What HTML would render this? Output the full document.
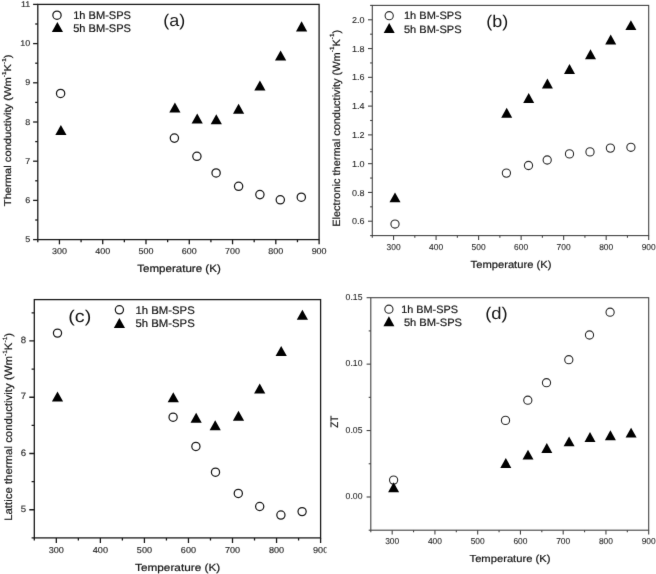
<!DOCTYPE html>
<html lang="en"><head><meta charset="utf-8"><title>Thermal conductivity and ZT versus temperature</title>
<style>html,body{margin:0;padding:0;background:#fff;overflow:hidden}svg{display:block}text{font-family:"Liberation Sans", sans-serif;text-rendering:geometricPrecision}</style></head><body>
<svg width="656" height="574" viewBox="0 0 656 574">
<defs><filter id="soft" x="-2" y="-2" width="660" height="578" filterUnits="userSpaceOnUse" color-interpolation-filters="sRGB"><feConvolveMatrix order="3" kernelMatrix="0.00524 0.06192 0.00524 0.06192 0.73137 0.06192 0.00524 0.06192 0.00524" divisor="1" edgeMode="duplicate" preserveAlpha="false"/></filter></defs>
<rect x="0" y="0" width="656" height="574" fill="#fff"/>
<g filter="url(#soft)">
<rect x="-2" y="-2" width="660" height="578" fill="#fff"/>
<g id="panel-a">
<rect x="37.8" y="4.4" width="281.3" height="235.2" fill="none" stroke="#1a1a1a" stroke-width="1.3"/>
<line x1="59.44" y1="239.6" x2="59.44" y2="244.3" stroke="#1a1a1a" stroke-width="1.3"/>
<line x1="102.72" y1="239.6" x2="102.72" y2="244.3" stroke="#1a1a1a" stroke-width="1.3"/>
<line x1="145.99" y1="239.6" x2="145.99" y2="244.3" stroke="#1a1a1a" stroke-width="1.3"/>
<line x1="189.27" y1="239.6" x2="189.27" y2="244.3" stroke="#1a1a1a" stroke-width="1.3"/>
<line x1="232.55" y1="239.6" x2="232.55" y2="244.3" stroke="#1a1a1a" stroke-width="1.3"/>
<line x1="275.82" y1="239.6" x2="275.82" y2="244.3" stroke="#1a1a1a" stroke-width="1.3"/>
<line x1="319.1" y1="239.6" x2="319.1" y2="244.3" stroke="#1a1a1a" stroke-width="1.3"/>
<line x1="37.8" y1="239.6" x2="37.8" y2="242.2" stroke="#1a1a1a" stroke-width="1.3"/>
<line x1="81.08" y1="239.6" x2="81.08" y2="242.2" stroke="#1a1a1a" stroke-width="1.3"/>
<line x1="124.35" y1="239.6" x2="124.35" y2="242.2" stroke="#1a1a1a" stroke-width="1.3"/>
<line x1="167.63" y1="239.6" x2="167.63" y2="242.2" stroke="#1a1a1a" stroke-width="1.3"/>
<line x1="210.91" y1="239.6" x2="210.91" y2="242.2" stroke="#1a1a1a" stroke-width="1.3"/>
<line x1="254.18" y1="239.6" x2="254.18" y2="242.2" stroke="#1a1a1a" stroke-width="1.3"/>
<line x1="297.46" y1="239.6" x2="297.46" y2="242.2" stroke="#1a1a1a" stroke-width="1.3"/>
<text transform="translate(59.44,253.8) scale(1.07,1)" font-size="8.4" text-anchor="middle" fill="#2a2a2a" stroke="#2a2a2a" stroke-width="0.15">300</text>
<text transform="translate(102.72,253.8) scale(1.07,1)" font-size="8.4" text-anchor="middle" fill="#2a2a2a" stroke="#2a2a2a" stroke-width="0.15">400</text>
<text transform="translate(145.99,253.8) scale(1.07,1)" font-size="8.4" text-anchor="middle" fill="#2a2a2a" stroke="#2a2a2a" stroke-width="0.15">500</text>
<text transform="translate(189.27,253.8) scale(1.07,1)" font-size="8.4" text-anchor="middle" fill="#2a2a2a" stroke="#2a2a2a" stroke-width="0.15">600</text>
<text transform="translate(232.55,253.8) scale(1.07,1)" font-size="8.4" text-anchor="middle" fill="#2a2a2a" stroke="#2a2a2a" stroke-width="0.15">700</text>
<text transform="translate(275.82,253.8) scale(1.07,1)" font-size="8.4" text-anchor="middle" fill="#2a2a2a" stroke="#2a2a2a" stroke-width="0.15">800</text>
<text transform="translate(319.1,253.8) scale(1.07,1)" font-size="8.4" text-anchor="middle" fill="#2a2a2a" stroke="#2a2a2a" stroke-width="0.15">900</text>
<line x1="37.8" y1="239.6" x2="33.1" y2="239.6" stroke="#1a1a1a" stroke-width="1.3"/>
<line x1="37.8" y1="200.4" x2="33.1" y2="200.4" stroke="#1a1a1a" stroke-width="1.3"/>
<line x1="37.8" y1="161.2" x2="33.1" y2="161.2" stroke="#1a1a1a" stroke-width="1.3"/>
<line x1="37.8" y1="122" x2="33.1" y2="122" stroke="#1a1a1a" stroke-width="1.3"/>
<line x1="37.8" y1="82.8" x2="33.1" y2="82.8" stroke="#1a1a1a" stroke-width="1.3"/>
<line x1="37.8" y1="43.6" x2="33.1" y2="43.6" stroke="#1a1a1a" stroke-width="1.3"/>
<line x1="37.8" y1="4.4" x2="33.1" y2="4.4" stroke="#1a1a1a" stroke-width="1.3"/>
<line x1="37.8" y1="220" x2="35.2" y2="220" stroke="#1a1a1a" stroke-width="1.3"/>
<line x1="37.8" y1="180.8" x2="35.2" y2="180.8" stroke="#1a1a1a" stroke-width="1.3"/>
<line x1="37.8" y1="141.6" x2="35.2" y2="141.6" stroke="#1a1a1a" stroke-width="1.3"/>
<line x1="37.8" y1="102.4" x2="35.2" y2="102.4" stroke="#1a1a1a" stroke-width="1.3"/>
<line x1="37.8" y1="63.2" x2="35.2" y2="63.2" stroke="#1a1a1a" stroke-width="1.3"/>
<line x1="37.8" y1="24" x2="35.2" y2="24" stroke="#1a1a1a" stroke-width="1.3"/>
<text transform="translate(30.3,242.21) scale(1.07,1)" font-size="8.4" text-anchor="end" fill="#2a2a2a" stroke="#2a2a2a" stroke-width="0.15">5</text>
<text transform="translate(30.3,203.01) scale(1.07,1)" font-size="8.4" text-anchor="end" fill="#2a2a2a" stroke="#2a2a2a" stroke-width="0.15">6</text>
<text transform="translate(30.3,163.81) scale(1.07,1)" font-size="8.4" text-anchor="end" fill="#2a2a2a" stroke="#2a2a2a" stroke-width="0.15">7</text>
<text transform="translate(30.3,124.61) scale(1.07,1)" font-size="8.4" text-anchor="end" fill="#2a2a2a" stroke="#2a2a2a" stroke-width="0.15">8</text>
<text transform="translate(30.3,85.41) scale(1.07,1)" font-size="8.4" text-anchor="end" fill="#2a2a2a" stroke="#2a2a2a" stroke-width="0.15">9</text>
<text transform="translate(30.3,46.21) scale(1.07,1)" font-size="8.4" text-anchor="end" fill="#2a2a2a" stroke="#2a2a2a" stroke-width="0.15">10</text>
<text transform="translate(30.3,7.01) scale(1.07,1)" font-size="8.4" text-anchor="end" fill="#2a2a2a" stroke="#2a2a2a" stroke-width="0.15">11</text>
<text transform="translate(179,272.2) scale(1.1,1)" font-size="10.5" text-anchor="middle" fill="#161616" stroke="#161616" stroke-width="0.22">Temperature (K)</text>
<text transform="translate(11.15,130.3) rotate(-90) scale(1.13,1)" font-size="9.9" text-anchor="middle" fill="#161616" stroke="#161616" stroke-width="0.22">Thermal conductivity (Wm<tspan dy="-5.15" font-size="5.74">-1</tspan><tspan dy="5.15">K</tspan><tspan dy="-5.15" font-size="5.74">-1</tspan><tspan dy="5.15">)</tspan></text>
<text transform="translate(174.2,25.5) scale(1.07,1)" font-size="16.8" text-anchor="middle" fill="#161616">(a)</text>
<circle cx="57" cy="15.2" r="4.15" fill="#fff" stroke="#1a1a1a" stroke-width="1.25"/>
<polygon points="57.4,21.95 63,32.05 51.8,32.05" fill="#000"/>
<text transform="translate(73.2,19.2) scale(1.005,1)" font-size="11.0" text-anchor="start" fill="#161616" stroke="#161616" stroke-width="0.22">1h BM-SPS</text>
<text transform="translate(73.2,32.25) scale(1.005,1)" font-size="11.0" text-anchor="start" fill="#161616" stroke="#161616" stroke-width="0.22">5h BM-SPS</text>
<circle cx="60.6" cy="93.4" r="4.15" fill="#fff" stroke="#1a1a1a" stroke-width="1.25"/>
<circle cx="174.4" cy="138.1" r="4.15" fill="#fff" stroke="#1a1a1a" stroke-width="1.25"/>
<circle cx="196.9" cy="156.3" r="4.15" fill="#fff" stroke="#1a1a1a" stroke-width="1.25"/>
<circle cx="216.1" cy="172.9" r="4.15" fill="#fff" stroke="#1a1a1a" stroke-width="1.25"/>
<circle cx="238.6" cy="186.3" r="4.15" fill="#fff" stroke="#1a1a1a" stroke-width="1.25"/>
<circle cx="259.9" cy="194.6" r="4.15" fill="#fff" stroke="#1a1a1a" stroke-width="1.25"/>
<circle cx="280.3" cy="199.8" r="4.15" fill="#fff" stroke="#1a1a1a" stroke-width="1.25"/>
<circle cx="301.3" cy="197.2" r="4.15" fill="#fff" stroke="#1a1a1a" stroke-width="1.25"/>
<polygon points="60.9,125 66.5,135.1 55.3,135.1" fill="#000"/>
<polygon points="174.9,102.4 180.5,112.5 169.3,112.5" fill="#000"/>
<polygon points="197.2,113.4 202.8,123.5 191.6,123.5" fill="#000"/>
<polygon points="216.3,114.2 221.9,124.3 210.7,124.3" fill="#000"/>
<polygon points="238.6,103.7 244.2,113.8 233,113.8" fill="#000"/>
<polygon points="259.9,80.4 265.5,90.5 254.3,90.5" fill="#000"/>
<polygon points="280.6,50.4 286.2,60.5 275,60.5" fill="#000"/>
<polygon points="301.6,21.3 307.2,31.4 296,31.4" fill="#000"/>
</g>
<g id="panel-b">
<rect x="372.3" y="5.4" width="276.4" height="230.2" fill="none" stroke="#444" stroke-width="1.1"/>
<line x1="393.56" y1="235.6" x2="393.56" y2="239.9" stroke="#444" stroke-width="1.1"/>
<line x1="436.08" y1="235.6" x2="436.08" y2="239.9" stroke="#444" stroke-width="1.1"/>
<line x1="478.61" y1="235.6" x2="478.61" y2="239.9" stroke="#444" stroke-width="1.1"/>
<line x1="521.13" y1="235.6" x2="521.13" y2="239.9" stroke="#444" stroke-width="1.1"/>
<line x1="563.65" y1="235.6" x2="563.65" y2="239.9" stroke="#444" stroke-width="1.1"/>
<line x1="606.18" y1="235.6" x2="606.18" y2="239.9" stroke="#444" stroke-width="1.1"/>
<line x1="648.7" y1="235.6" x2="648.7" y2="239.9" stroke="#444" stroke-width="1.1"/>
<line x1="372.3" y1="235.6" x2="372.3" y2="237.8" stroke="#444" stroke-width="1.1"/>
<line x1="414.82" y1="235.6" x2="414.82" y2="237.8" stroke="#444" stroke-width="1.1"/>
<line x1="457.35" y1="235.6" x2="457.35" y2="237.8" stroke="#444" stroke-width="1.1"/>
<line x1="499.87" y1="235.6" x2="499.87" y2="237.8" stroke="#444" stroke-width="1.1"/>
<line x1="542.39" y1="235.6" x2="542.39" y2="237.8" stroke="#444" stroke-width="1.1"/>
<line x1="584.92" y1="235.6" x2="584.92" y2="237.8" stroke="#444" stroke-width="1.1"/>
<line x1="627.44" y1="235.6" x2="627.44" y2="237.8" stroke="#444" stroke-width="1.1"/>
<text transform="translate(393.56,250.4) scale(0.98,1)" font-size="8.6" text-anchor="middle" fill="#2a2a2a" stroke="#2a2a2a" stroke-width="0.1">300</text>
<text transform="translate(436.08,250.4) scale(0.98,1)" font-size="8.6" text-anchor="middle" fill="#2a2a2a" stroke="#2a2a2a" stroke-width="0.1">400</text>
<text transform="translate(478.61,250.4) scale(0.98,1)" font-size="8.6" text-anchor="middle" fill="#2a2a2a" stroke="#2a2a2a" stroke-width="0.1">500</text>
<text transform="translate(521.13,250.4) scale(0.98,1)" font-size="8.6" text-anchor="middle" fill="#2a2a2a" stroke="#2a2a2a" stroke-width="0.1">600</text>
<text transform="translate(563.65,250.4) scale(0.98,1)" font-size="8.6" text-anchor="middle" fill="#2a2a2a" stroke="#2a2a2a" stroke-width="0.1">700</text>
<text transform="translate(606.18,250.4) scale(0.98,1)" font-size="8.6" text-anchor="middle" fill="#2a2a2a" stroke="#2a2a2a" stroke-width="0.1">800</text>
<text transform="translate(648.7,250.4) scale(0.98,1)" font-size="8.6" text-anchor="middle" fill="#2a2a2a" stroke="#2a2a2a" stroke-width="0.1">900</text>
<line x1="372.3" y1="221.21" x2="368" y2="221.21" stroke="#444" stroke-width="1.1"/>
<line x1="372.3" y1="192.44" x2="368" y2="192.44" stroke="#444" stroke-width="1.1"/>
<line x1="372.3" y1="163.66" x2="368" y2="163.66" stroke="#444" stroke-width="1.1"/>
<line x1="372.3" y1="134.89" x2="368" y2="134.89" stroke="#444" stroke-width="1.1"/>
<line x1="372.3" y1="106.11" x2="368" y2="106.11" stroke="#444" stroke-width="1.1"/>
<line x1="372.3" y1="77.34" x2="368" y2="77.34" stroke="#444" stroke-width="1.1"/>
<line x1="372.3" y1="48.56" x2="368" y2="48.56" stroke="#444" stroke-width="1.1"/>
<line x1="372.3" y1="19.79" x2="368" y2="19.79" stroke="#444" stroke-width="1.1"/>
<line x1="372.3" y1="235.6" x2="370.1" y2="235.6" stroke="#444" stroke-width="1.1"/>
<line x1="372.3" y1="206.82" x2="370.1" y2="206.82" stroke="#444" stroke-width="1.1"/>
<line x1="372.3" y1="178.05" x2="370.1" y2="178.05" stroke="#444" stroke-width="1.1"/>
<line x1="372.3" y1="149.27" x2="370.1" y2="149.27" stroke="#444" stroke-width="1.1"/>
<line x1="372.3" y1="120.5" x2="370.1" y2="120.5" stroke="#444" stroke-width="1.1"/>
<line x1="372.3" y1="91.72" x2="370.1" y2="91.72" stroke="#444" stroke-width="1.1"/>
<line x1="372.3" y1="62.95" x2="370.1" y2="62.95" stroke="#444" stroke-width="1.1"/>
<line x1="372.3" y1="34.18" x2="370.1" y2="34.18" stroke="#444" stroke-width="1.1"/>
<line x1="372.3" y1="5.4" x2="370.1" y2="5.4" stroke="#444" stroke-width="1.1"/>
<text transform="translate(364.5,224.29) scale(1.05,1)" font-size="8.6" text-anchor="end" fill="#2a2a2a" stroke="#2a2a2a" stroke-width="0.1">0.6</text>
<text transform="translate(364.5,195.52) scale(1.05,1)" font-size="8.6" text-anchor="end" fill="#2a2a2a" stroke="#2a2a2a" stroke-width="0.1">0.8</text>
<text transform="translate(364.5,166.74) scale(1.05,1)" font-size="8.6" text-anchor="end" fill="#2a2a2a" stroke="#2a2a2a" stroke-width="0.1">1.0</text>
<text transform="translate(364.5,137.97) scale(1.05,1)" font-size="8.6" text-anchor="end" fill="#2a2a2a" stroke="#2a2a2a" stroke-width="0.1">1.2</text>
<text transform="translate(364.5,109.19) scale(1.05,1)" font-size="8.6" text-anchor="end" fill="#2a2a2a" stroke="#2a2a2a" stroke-width="0.1">1.4</text>
<text transform="translate(364.5,80.42) scale(1.05,1)" font-size="8.6" text-anchor="end" fill="#2a2a2a" stroke="#2a2a2a" stroke-width="0.1">1.6</text>
<text transform="translate(364.5,51.64) scale(1.05,1)" font-size="8.6" text-anchor="end" fill="#2a2a2a" stroke="#2a2a2a" stroke-width="0.1">1.8</text>
<text transform="translate(364.5,22.87) scale(1.05,1)" font-size="8.6" text-anchor="end" fill="#2a2a2a" stroke="#2a2a2a" stroke-width="0.1">2.0</text>
<text transform="translate(511,268) scale(1.086,1)" font-size="10.3" text-anchor="middle" fill="#161616" stroke="#161616" stroke-width="0.2">Temperature (K)</text>
<text transform="translate(339.9,128.35) rotate(-90) scale(1.046,1)" font-size="10.5" text-anchor="middle" fill="#161616" stroke="#161616" stroke-width="0.2">Electronic thermal conductivity (Wm<tspan dy="-5.46" font-size="6.09">-1</tspan><tspan dy="5.46">K</tspan><tspan dy="-5.46" font-size="6.09">-1</tspan><tspan dy="5.46">)</tspan></text>
<text transform="translate(497.3,26.7) scale(1.07,1)" font-size="16.8" text-anchor="middle" fill="#161616">(b)</text>
<circle cx="389.2" cy="15.7" r="4.1" fill="#fff" stroke="#2a2a2a" stroke-width="1.1"/>
<polygon points="389.2,23.1 394.7,33 383.7,33" fill="#000"/>
<text transform="translate(404,19.4) scale(1.03,1)" font-size="10.7" text-anchor="start" fill="#161616" stroke="#161616" stroke-width="0.2">1h BM-SPS</text>
<text transform="translate(404,32.9) scale(1.03,1)" font-size="10.7" text-anchor="start" fill="#161616" stroke="#161616" stroke-width="0.2">5h BM-SPS</text>
<circle cx="395" cy="224.05" r="4.1" fill="#fff" stroke="#2a2a2a" stroke-width="1.1"/>
<circle cx="506.4" cy="173.1" r="4.1" fill="#fff" stroke="#2a2a2a" stroke-width="1.1"/>
<circle cx="528.5" cy="165.5" r="4.1" fill="#fff" stroke="#2a2a2a" stroke-width="1.1"/>
<circle cx="547.2" cy="160" r="4.1" fill="#fff" stroke="#2a2a2a" stroke-width="1.1"/>
<circle cx="569.5" cy="153.9" r="4.1" fill="#fff" stroke="#2a2a2a" stroke-width="1.1"/>
<circle cx="590" cy="151.9" r="4.1" fill="#fff" stroke="#2a2a2a" stroke-width="1.1"/>
<circle cx="610.4" cy="148.1" r="4.1" fill="#fff" stroke="#2a2a2a" stroke-width="1.1"/>
<circle cx="630.9" cy="147.3" r="4.1" fill="#fff" stroke="#2a2a2a" stroke-width="1.1"/>
<polygon points="395,192.45 400.5,202.35 389.5,202.35" fill="#000"/>
<polygon points="506.7,107.8 512.2,117.7 501.2,117.7" fill="#000"/>
<polygon points="528.7,93 534.2,102.9 523.2,102.9" fill="#000"/>
<polygon points="547.4,78.6 552.9,88.5 541.9,88.5" fill="#000"/>
<polygon points="569.5,64.1 575,74 564,74" fill="#000"/>
<polygon points="590.5,49.3 596,59.2 585,59.2" fill="#000"/>
<polygon points="610.7,34.5 616.2,44.4 605.2,44.4" fill="#000"/>
<polygon points="630.9,20.2 636.4,30.1 625.4,30.1" fill="#000"/>
</g>
<g id="panel-c">
<clipPath id="clip-c"><rect x="0" y="287" width="326.5" height="287"/></clipPath><g clip-path="url(#clip-c)">
<rect x="34.3" y="299.6" width="286.3" height="238.3" fill="none" stroke="#1a1a1a" stroke-width="1.3"/>
<line x1="56.32" y1="537.9" x2="56.32" y2="542.9" stroke="#1a1a1a" stroke-width="1.3"/>
<line x1="100.37" y1="537.9" x2="100.37" y2="542.9" stroke="#1a1a1a" stroke-width="1.3"/>
<line x1="144.42" y1="537.9" x2="144.42" y2="542.9" stroke="#1a1a1a" stroke-width="1.3"/>
<line x1="188.46" y1="537.9" x2="188.46" y2="542.9" stroke="#1a1a1a" stroke-width="1.3"/>
<line x1="232.51" y1="537.9" x2="232.51" y2="542.9" stroke="#1a1a1a" stroke-width="1.3"/>
<line x1="276.55" y1="537.9" x2="276.55" y2="542.9" stroke="#1a1a1a" stroke-width="1.3"/>
<line x1="320.6" y1="537.9" x2="320.6" y2="542.9" stroke="#1a1a1a" stroke-width="1.3"/>
<line x1="34.3" y1="537.9" x2="34.3" y2="540.6" stroke="#1a1a1a" stroke-width="1.3"/>
<line x1="78.35" y1="537.9" x2="78.35" y2="540.6" stroke="#1a1a1a" stroke-width="1.3"/>
<line x1="122.39" y1="537.9" x2="122.39" y2="540.6" stroke="#1a1a1a" stroke-width="1.3"/>
<line x1="166.44" y1="537.9" x2="166.44" y2="540.6" stroke="#1a1a1a" stroke-width="1.3"/>
<line x1="210.48" y1="537.9" x2="210.48" y2="540.6" stroke="#1a1a1a" stroke-width="1.3"/>
<line x1="254.53" y1="537.9" x2="254.53" y2="540.6" stroke="#1a1a1a" stroke-width="1.3"/>
<line x1="298.58" y1="537.9" x2="298.58" y2="540.6" stroke="#1a1a1a" stroke-width="1.3"/>
<text transform="translate(56.32,552.6) scale(1.06,1)" font-size="8.6" text-anchor="middle" fill="#2a2a2a" stroke="#2a2a2a" stroke-width="0.15">300</text>
<text transform="translate(100.37,552.6) scale(1.06,1)" font-size="8.6" text-anchor="middle" fill="#2a2a2a" stroke="#2a2a2a" stroke-width="0.15">400</text>
<text transform="translate(144.42,552.6) scale(1.06,1)" font-size="8.6" text-anchor="middle" fill="#2a2a2a" stroke="#2a2a2a" stroke-width="0.15">500</text>
<text transform="translate(188.46,552.6) scale(1.06,1)" font-size="8.6" text-anchor="middle" fill="#2a2a2a" stroke="#2a2a2a" stroke-width="0.15">600</text>
<text transform="translate(232.51,552.6) scale(1.06,1)" font-size="8.6" text-anchor="middle" fill="#2a2a2a" stroke="#2a2a2a" stroke-width="0.15">700</text>
<text transform="translate(276.55,552.6) scale(1.06,1)" font-size="8.6" text-anchor="middle" fill="#2a2a2a" stroke="#2a2a2a" stroke-width="0.15">800</text>
<text transform="translate(320.6,552.6) scale(1.06,1)" font-size="8.6" text-anchor="middle" fill="#2a2a2a" stroke="#2a2a2a" stroke-width="0.15">900</text>
<line x1="34.3" y1="509.77" x2="29.3" y2="509.77" stroke="#1a1a1a" stroke-width="1.3"/>
<line x1="34.3" y1="453.5" x2="29.3" y2="453.5" stroke="#1a1a1a" stroke-width="1.3"/>
<line x1="34.3" y1="397.23" x2="29.3" y2="397.23" stroke="#1a1a1a" stroke-width="1.3"/>
<line x1="34.3" y1="340.96" x2="29.3" y2="340.96" stroke="#1a1a1a" stroke-width="1.3"/>
<line x1="34.3" y1="537.9" x2="31.6" y2="537.9" stroke="#1a1a1a" stroke-width="1.3"/>
<line x1="34.3" y1="481.63" x2="31.6" y2="481.63" stroke="#1a1a1a" stroke-width="1.3"/>
<line x1="34.3" y1="425.36" x2="31.6" y2="425.36" stroke="#1a1a1a" stroke-width="1.3"/>
<line x1="34.3" y1="369.09" x2="31.6" y2="369.09" stroke="#1a1a1a" stroke-width="1.3"/>
<line x1="34.3" y1="312.82" x2="31.6" y2="312.82" stroke="#1a1a1a" stroke-width="1.3"/>
<text transform="translate(26.1,511.96) scale(1.05,1)" font-size="9.2" text-anchor="end" fill="#2a2a2a" stroke="#2a2a2a" stroke-width="0.15">5</text>
<text transform="translate(26.1,455.69) scale(1.05,1)" font-size="9.2" text-anchor="end" fill="#2a2a2a" stroke="#2a2a2a" stroke-width="0.15">6</text>
<text transform="translate(26.1,399.42) scale(1.05,1)" font-size="9.2" text-anchor="end" fill="#2a2a2a" stroke="#2a2a2a" stroke-width="0.15">7</text>
<text transform="translate(26.1,343.15) scale(1.05,1)" font-size="9.2" text-anchor="end" fill="#2a2a2a" stroke="#2a2a2a" stroke-width="0.15">8</text>
<text transform="translate(177.6,570.6) scale(1.144,1)" font-size="10.3" text-anchor="middle" fill="#161616" stroke="#161616" stroke-width="0.2">Temperature (K)</text>
<text transform="translate(12.1,426.85) rotate(-90) scale(1.067,1)" font-size="10.7" text-anchor="middle" fill="#161616" stroke="#161616" stroke-width="0.2">Lattice thermal conductivity (Wm<tspan dy="-5.56" font-size="6.21">-1</tspan><tspan dy="5.56">K</tspan><tspan dy="-5.56" font-size="6.21">-1</tspan><tspan dy="5.56">)</tspan></text>
<text transform="translate(79.75,321.8) scale(1.16,1)" font-size="17.0" text-anchor="middle" fill="#161616">(c)</text>
<circle cx="119.4" cy="309.8" r="4.1" fill="#fff" stroke="#1a1a1a" stroke-width="1.25"/>
<polygon points="119.4,317.95 125,327.95 113.8,327.95" fill="#000"/>
<text transform="translate(135.5,314.3) scale(1.03,1)" font-size="11.0" text-anchor="start" fill="#161616" stroke="#161616" stroke-width="0.2">1h BM-SPS</text>
<text transform="translate(135.5,327.2) scale(1.03,1)" font-size="11.0" text-anchor="start" fill="#161616" stroke="#161616" stroke-width="0.2">5h BM-SPS</text>
<circle cx="57.5" cy="333.1" r="4.1" fill="#fff" stroke="#1a1a1a" stroke-width="1.25"/>
<circle cx="173.1" cy="417.2" r="4.1" fill="#fff" stroke="#1a1a1a" stroke-width="1.25"/>
<circle cx="195.9" cy="446.4" r="4.1" fill="#fff" stroke="#1a1a1a" stroke-width="1.25"/>
<circle cx="215.5" cy="472.2" r="4.1" fill="#fff" stroke="#1a1a1a" stroke-width="1.25"/>
<circle cx="238.3" cy="493.4" r="4.1" fill="#fff" stroke="#1a1a1a" stroke-width="1.25"/>
<circle cx="259.7" cy="506.5" r="4.1" fill="#fff" stroke="#1a1a1a" stroke-width="1.25"/>
<circle cx="280.9" cy="515.1" r="4.1" fill="#fff" stroke="#1a1a1a" stroke-width="1.25"/>
<circle cx="302.1" cy="511.6" r="4.1" fill="#fff" stroke="#1a1a1a" stroke-width="1.25"/>
<polygon points="57.5,391.55 63.1,401.55 51.9,401.55" fill="#000"/>
<polygon points="173.3,392.35 178.9,402.35 167.7,402.35" fill="#000"/>
<polygon points="196.15,412.85 201.75,422.85 190.55,422.85" fill="#000"/>
<polygon points="215.2,420.35 220.8,430.35 209.6,430.35" fill="#000"/>
<polygon points="238.5,410.75 244.1,420.75 232.9,420.75" fill="#000"/>
<polygon points="259.7,383.55 265.3,393.55 254.1,393.55" fill="#000"/>
<polygon points="281.2,346.1 286.8,356.1 275.6,356.1" fill="#000"/>
<polygon points="302.4,309.85 308,319.85 296.8,319.85" fill="#000"/>
</g>
</g>
<g id="panel-d">
<rect x="370.8" y="297.7" width="277.9" height="232.5" fill="none" stroke="#444" stroke-width="1.1"/>
<line x1="392.18" y1="530.2" x2="392.18" y2="534.4" stroke="#444" stroke-width="1.1"/>
<line x1="434.93" y1="530.2" x2="434.93" y2="534.4" stroke="#444" stroke-width="1.1"/>
<line x1="477.68" y1="530.2" x2="477.68" y2="534.4" stroke="#444" stroke-width="1.1"/>
<line x1="520.44" y1="530.2" x2="520.44" y2="534.4" stroke="#444" stroke-width="1.1"/>
<line x1="563.19" y1="530.2" x2="563.19" y2="534.4" stroke="#444" stroke-width="1.1"/>
<line x1="605.95" y1="530.2" x2="605.95" y2="534.4" stroke="#444" stroke-width="1.1"/>
<line x1="648.7" y1="530.2" x2="648.7" y2="534.4" stroke="#444" stroke-width="1.1"/>
<line x1="370.8" y1="530.2" x2="370.8" y2="532.3" stroke="#444" stroke-width="1.1"/>
<line x1="413.55" y1="530.2" x2="413.55" y2="532.3" stroke="#444" stroke-width="1.1"/>
<line x1="456.31" y1="530.2" x2="456.31" y2="532.3" stroke="#444" stroke-width="1.1"/>
<line x1="499.06" y1="530.2" x2="499.06" y2="532.3" stroke="#444" stroke-width="1.1"/>
<line x1="541.82" y1="530.2" x2="541.82" y2="532.3" stroke="#444" stroke-width="1.1"/>
<line x1="584.57" y1="530.2" x2="584.57" y2="532.3" stroke="#444" stroke-width="1.1"/>
<line x1="627.32" y1="530.2" x2="627.32" y2="532.3" stroke="#444" stroke-width="1.1"/>
<text transform="translate(392.18,544.3) scale(0.98,1)" font-size="8.6" text-anchor="middle" fill="#2a2a2a" stroke="#2a2a2a" stroke-width="0.1">300</text>
<text transform="translate(434.93,544.3) scale(0.98,1)" font-size="8.6" text-anchor="middle" fill="#2a2a2a" stroke="#2a2a2a" stroke-width="0.1">400</text>
<text transform="translate(477.68,544.3) scale(0.98,1)" font-size="8.6" text-anchor="middle" fill="#2a2a2a" stroke="#2a2a2a" stroke-width="0.1">500</text>
<text transform="translate(520.44,544.3) scale(0.98,1)" font-size="8.6" text-anchor="middle" fill="#2a2a2a" stroke="#2a2a2a" stroke-width="0.1">600</text>
<text transform="translate(563.19,544.3) scale(0.98,1)" font-size="8.6" text-anchor="middle" fill="#2a2a2a" stroke="#2a2a2a" stroke-width="0.1">700</text>
<text transform="translate(605.95,544.3) scale(0.98,1)" font-size="8.6" text-anchor="middle" fill="#2a2a2a" stroke="#2a2a2a" stroke-width="0.1">800</text>
<text transform="translate(648.7,544.3) scale(0.98,1)" font-size="8.6" text-anchor="middle" fill="#2a2a2a" stroke="#2a2a2a" stroke-width="0.1">900</text>
<line x1="370.8" y1="496.99" x2="366.6" y2="496.99" stroke="#444" stroke-width="1.1"/>
<line x1="370.8" y1="430.56" x2="366.6" y2="430.56" stroke="#444" stroke-width="1.1"/>
<line x1="370.8" y1="364.13" x2="366.6" y2="364.13" stroke="#444" stroke-width="1.1"/>
<line x1="370.8" y1="297.7" x2="366.6" y2="297.7" stroke="#444" stroke-width="1.1"/>
<line x1="370.8" y1="530.2" x2="368.7" y2="530.2" stroke="#444" stroke-width="1.1"/>
<line x1="370.8" y1="463.77" x2="368.7" y2="463.77" stroke="#444" stroke-width="1.1"/>
<line x1="370.8" y1="397.34" x2="368.7" y2="397.34" stroke="#444" stroke-width="1.1"/>
<line x1="370.8" y1="330.91" x2="368.7" y2="330.91" stroke="#444" stroke-width="1.1"/>
<text transform="translate(362.5,499.26) scale(1.01,1)" font-size="8.6" text-anchor="end" fill="#2a2a2a" stroke="#2a2a2a" stroke-width="0.1">0.00</text>
<text transform="translate(362.5,432.84) scale(1.01,1)" font-size="8.6" text-anchor="end" fill="#2a2a2a" stroke="#2a2a2a" stroke-width="0.1">0.05</text>
<text transform="translate(362.5,366.41) scale(1.01,1)" font-size="8.6" text-anchor="end" fill="#2a2a2a" stroke="#2a2a2a" stroke-width="0.1">0.10</text>
<text transform="translate(362.5,299.98) scale(1.01,1)" font-size="8.6" text-anchor="end" fill="#2a2a2a" stroke="#2a2a2a" stroke-width="0.1">0.15</text>
<text transform="translate(510,562) scale(1.1,1)" font-size="10.2" text-anchor="middle" fill="#161616" stroke="#161616" stroke-width="0.2">Temperature (K)</text>
<text transform="translate(337.8,421.7) rotate(-90) scale(0.92,1)" font-size="10.8" text-anchor="middle" fill="#161616" stroke="#161616" stroke-width="0.2">ZT</text>
<text transform="translate(496.4,319) scale(1.1,1)" font-size="16.8" text-anchor="middle" fill="#161616">(d)</text>
<circle cx="388.9" cy="309.2" r="4.1" fill="#fff" stroke="#2a2a2a" stroke-width="1.1"/>
<polygon points="388.9,316.3 394.4,326.2 383.4,326.2" fill="#000"/>
<text transform="translate(401.2,312.8) scale(1.015,1)" font-size="10.7" text-anchor="start" fill="#161616" stroke="#161616" stroke-width="0.2">1h BM-SPS</text>
<text transform="translate(403.9,325.9) scale(1.04,1)" font-size="10.7" text-anchor="start" fill="#161616" stroke="#161616" stroke-width="0.2">5h BM-SPS</text>
<circle cx="393.6" cy="480.1" r="4.1" fill="#fff" stroke="#2a2a2a" stroke-width="1.1"/>
<circle cx="505.5" cy="420.4" r="4.1" fill="#fff" stroke="#2a2a2a" stroke-width="1.1"/>
<circle cx="527.8" cy="400.2" r="4.1" fill="#fff" stroke="#2a2a2a" stroke-width="1.1"/>
<circle cx="546.5" cy="382.7" r="4.1" fill="#fff" stroke="#2a2a2a" stroke-width="1.1"/>
<circle cx="568.8" cy="359.7" r="4.1" fill="#fff" stroke="#2a2a2a" stroke-width="1.1"/>
<circle cx="589.5" cy="335" r="4.1" fill="#fff" stroke="#2a2a2a" stroke-width="1.1"/>
<circle cx="610.1" cy="312.2" r="4.1" fill="#fff" stroke="#2a2a2a" stroke-width="1.1"/>
<polygon points="393.6,482.3 399.1,492.2 388.1,492.2" fill="#000"/>
<polygon points="505.8,458 511.3,467.9 500.3,467.9" fill="#000"/>
<polygon points="528,449.7 533.5,459.6 522.5,459.6" fill="#000"/>
<polygon points="546.8,443 552.3,452.9 541.3,452.9" fill="#000"/>
<polygon points="569.1,436.4 574.6,446.3 563.6,446.3" fill="#000"/>
<polygon points="590,432 595.5,441.9 584.5,441.9" fill="#000"/>
<polygon points="610.4,430.3 615.9,440.2 604.9,440.2" fill="#000"/>
<polygon points="631.1,427.7 636.6,437.6 625.6,437.6" fill="#000"/>
</g>
</g>
</svg></body></html>
